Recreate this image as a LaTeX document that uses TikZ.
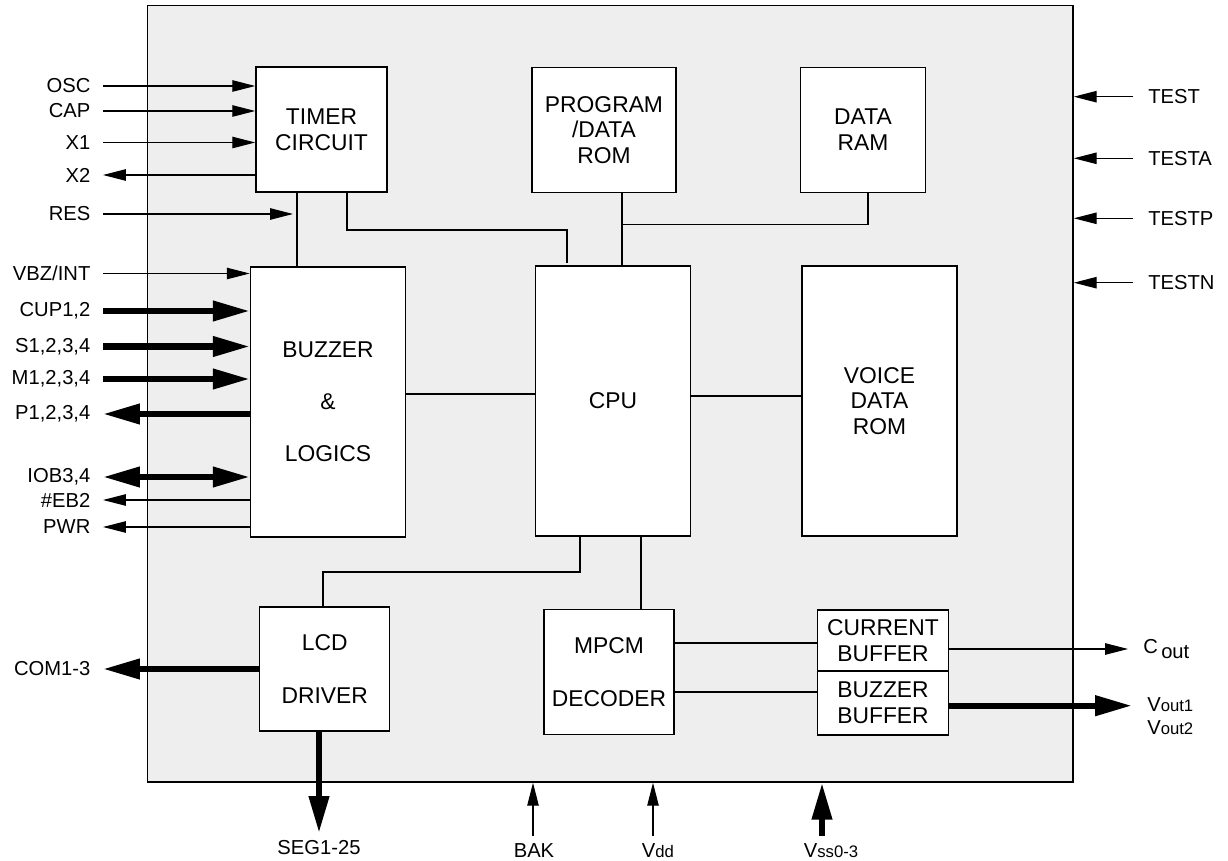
\documentclass[tikz,border=0pt]{standalone}
\usepackage{fontspec}
\setmainfont{Liberation Sans}
\usepackage{xcolor}
\usetikzlibrary{arrows.meta}

\definecolor{chipgray}{RGB}{238,238,238}
\newcommand\blkfont{\fontsize{13}{14.7}\selectfont}
\newcommand\pinfont{\fontsize{11.5}{13}\selectfont}
\newcommand\sm[1]{{\fontsize{9.5}{11}\selectfont #1}}

\tikzset{
  sz/.style 2 args={minimum width={#1*0.02cm}, minimum height={#2*0.02cm}},
}

\begin{document}
\begin{tikzpicture}[
    x=0.02cm, y=-0.02cm,
    sig/.style={line width=0.6pt, -{Triangle[length=13pt, width=6.5pt]}},
    bus/.style={line width=3.5pt, -{Triangle[length=21pt, width=11pt]}},
    busboth/.style={line width=3.5pt,
                {Triangle[length=21pt, width=11pt]}-{Triangle[length=21pt, width=11pt]}},
    wire/.style={line width=0.8pt},
    blk/.style={draw, fill=white, line width=0.9pt, align=center,
                font=\blkfont, inner sep=0pt},
    pinl/.style={font=\pinfont, anchor=east, inner xsep=7pt, inner ysep=1pt},
    pinr/.style={font=\pinfont, anchor=west, inner xsep=8.5pt, inner ysep=1pt, align=left},
    pinb/.style={font=\pinfont, anchor=north, inner xsep=1pt, inner ysep=4pt},
  ]

  \useasboundingbox (0,0) rectangle (1228,861);

  % ============ Chip outline ============
  \node[draw, fill=chipgray, line width=0.9pt, sz={925.5}{776.3}] (chip) at (610.25,393.85) {};

  % ============ Top row ============
  \node[blk, sz={131}{125}] (timer) at (321.5,129.5) {TIMER\\CIRCUIT};
  \node[blk, sz={144}{125}] (rom) at (604,130) {PROGRAM\\/DATA\\ROM};
  \node[blk, sz={125}{125}] (ram) at (863,130) {DATA\\RAM};

  % ============ Middle row ============
  \node[blk, sz={155}{270}] (buzz) at (328,402) {BUZZER\\[15pt]\&\\[15pt]LOGICS};
  \node[blk, sz={155}{270}] (cpu) at (613,401) {CPU};
  \node[blk, sz={155}{270}] (voice) at (879.5,401) {VOICE\\DATA\\ROM};

  % ============ Bottom row ============
  \node[blk, sz={130}{124}] (lcd) at (324.7,669) {LCD\\[16pt]DRIVER};
  \node[blk, sz={130}{125}] (mpcm) at (609,672) {MPCM\\[15.5pt]DECODER};
  \node[blk, sz={131}{61}] (curbuf) at (883,640.5) {CURRENT\\BUFFER};
  \node[blk, sz={131}{64}] (bzbuf) at (883,703) {BUZZER\\BUFFER};

  % ======== INTERNAL WIRES ========
  \draw[wire] (timer.south -| 297,0) -- (buzz.north -| 297,0);
  \draw[wire, shorten >=1.5pt] (timer.south -| 347,0) |- (567,230) -- (cpu.north -| 567,0);
  \draw[wire] (rom.south -| 622,0) -- (cpu.north -| 622,0);
  \draw[wire] (ram.south -| 868,0) |- (622,224.5);
  \draw[wire] (buzz.east |- 0,394) -- (cpu.west |- 0,394);
  \draw[wire] (cpu.east |- 0,396) -- (voice.west |- 0,396);
  \draw[wire] (cpu.south -| 580,0) |- (323,572) -- (lcd.north -| 323,0);
  \draw[wire] (cpu.south -| 641,0) -- (mpcm.north -| 641,0);
  \draw[wire] (mpcm.east |- 0,643) -- (curbuf.west |- 0,643);
  \draw[wire] (mpcm.east |- 0,692) -- (bzbuf.west |- 0,692);

  % ======== LEFT PINS ========
  \node[pinl] (osc) at (103,86) {OSC};
  \node[pinl] (cap) at (103,111) {CAP};
  \node[pinl] (xa) at (103,142.5) {X1};
  \node[pinl] (xb) at (103,175) {X2};
  \node[pinl] (res) at (103,214) {RES};
  \node[pinl] (vbz) at (103,273.5) {VBZ/INT};
  \node[pinl] (cup) at (103,311) {CUP1,2};
  \node[pinl] (sw) at (103,346.5) {S1,2,3,4};
  \node[pinl] (mw) at (103,379) {M1,2,3,4};
  \node[pinl] (pw) at (103,414) {P1,2,3,4};
  \node[pinl] (iob) at (103,477) {IOB3,4};
  \node[pinl] (eb) at (103,500) {\#EB2};
  \node[pinl] (pwr) at (103,527) {PWR};
  \node[pinl] (com) at (103,669) {COM1-3};

  \draw[sig] (osc) -- (osc -| timer.west);
  \draw[sig] (cap) -- (cap -| timer.west);
  \draw[sig] (xa) -- (xa -| timer.west);
  \draw[sig] (xb -| timer.west) -- (xb);
  \draw[sig] (res) -- (res -| 293,0);
  \draw[sig] (vbz) -- (vbz -| buzz.west);
  \draw[bus] (cup) -- (cup -| buzz.west);
  \draw[bus] (sw) -- (sw -| buzz.west);
  \draw[bus] (mw) -- (mw -| buzz.west);
  \draw[bus] (pw -| buzz.west) -- (pw);
  \draw[busboth] (iob) -- (iob -| buzz.west);
  \draw[sig] (eb -| buzz.west) -- (eb);
  \draw[sig] (pwr -| buzz.west) -- (pwr);
  \draw[bus] (lcd.west) -- (com);

  % ======== RIGHT PINS ========
  \foreach \nm/\yy in {TEST/96.7, TESTA/158.3, TESTP/218.3, TESTN/282.7} {
    \node[pinr] (pin\nm) at (1133,\yy) {\nm};
    \draw[sig] (pin\nm) -- (pin\nm -| chip.east);
  }

  \node[pinr] (cout) at (1128,649) {C\,\raisebox{-3pt}{out}};
  \node[pinr] (vout) at (1132,716.5) {V\sm{out1}\\V\sm{out2}};
  \draw[sig] (curbuf.east |- cout.west) -- (cout.west);
  \draw[bus] (bzbuf.east |- 0,705.7) -- (vout.west |- 0,705.7);

  % ======== BOTTOM PINS ========
  \node[pinb] (seg) at (319,833) {SEG1-25};
  \node[pinb] (bak) at (534,836) {BAK};
  \node[pinb] (vdd) at (658,836) {V\sm{dd}};
  \node[pinb] (vss) at (831,836) {V\sm{ss0-3}};

  \draw[bus] (lcd.south -| seg.north) -- (seg.north);
  \draw[sig] (bak.north -| 533,0) -- (chip.south -| 533,0);
  \draw[sig] (vdd.north -| 653,0) -- (chip.south -| 653,0);
  \draw[bus] (vss.north -| 822,0) -- (chip.south -| 822,0);

\end{tikzpicture}
\end{document}
